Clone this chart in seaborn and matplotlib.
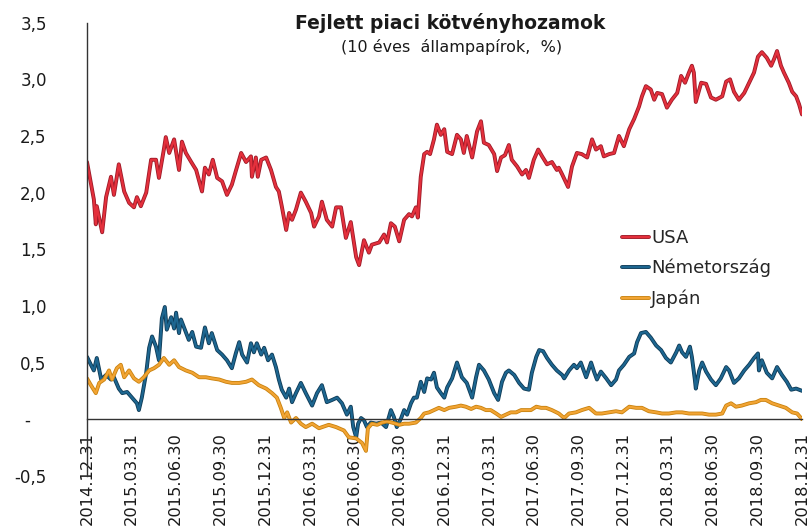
import matplotlib
matplotlib.use("Agg")
import matplotlib.pyplot as plt
import matplotlib.patheffects as pe
from matplotlib.lines import Line2D
import numpy as np
import pandas as pd
import seaborn as sns

start = pd.Timestamp("2014-12-31")

# days after 2014.12.31, values in %
usa_days = [0, 14, 18, 20, 31, 39, 49, 55, 65, 76, 86, 96, 102, 110, 121, 131, 141, 147, 157, 161,
            168, 178, 188, 194, 202, 213, 223, 235, 241, 249, 257, 266, 276, 286, 296, 304, 315, 325, 335, 337,
            345, 349, 356, 366, 376, 386, 392, 398, 407, 413, 419, 427, 437, 447, 458, 464, 474, 480, 490, 501,
            509, 519, 529, 539, 550, 556, 566, 576, 582, 597, 607, 613, 621, 629, 638, 648, 658, 664, 672, 676,
            682, 689, 695, 701, 709, 715, 723, 730, 736, 746, 756, 764, 770, 776, 787, 797, 805, 811, 821, 832,
            838, 846, 854, 862, 868, 879, 889, 897, 903, 913, 922, 930, 940, 950, 960, 964, 971, 983, 991, 1001,
            1011, 1022, 1032, 1040, 1050, 1056, 1067, 1077, 1087, 1097, 1108, 1118, 1128, 1134, 1142, 1152, 1159, 1165, 1175, 1185,
            1195, 1206, 1214, 1222, 1230, 1236, 1240, 1244, 1255, 1265, 1275, 1285, 1298, 1306, 1314, 1322, 1332, 1343, 1353, 1363,
            1371, 1379, 1389, 1398, 1404, 1410, 1418, 1424, 1434, 1441, 1449, 1455, 1461]
usa_vals = [2.27, 1.94, 1.72, 1.88, 1.65, 1.96, 2.14, 1.98, 2.25, 2.01, 1.91, 1.87, 1.96, 1.88, 2.00, 2.29, 2.29, 2.13, 2.38, 2.49,
            2.35, 2.47, 2.20, 2.45, 2.35, 2.27, 2.20, 2.01, 2.22, 2.16, 2.29, 2.13, 2.10, 1.98, 2.07, 2.19, 2.35, 2.27, 2.32, 2.14,
            2.31, 2.14, 2.29, 2.31, 2.20, 2.05, 2.01, 1.88, 1.67, 1.82, 1.76, 1.85, 2.00, 1.92, 1.82, 1.70, 1.79, 1.92, 1.76, 1.70,
            1.87, 1.87, 1.60, 1.74, 1.43, 1.36, 1.58, 1.47, 1.54, 1.56, 1.63, 1.56, 1.73, 1.70, 1.57, 1.76, 1.81, 1.79, 1.87, 1.78,
            2.14, 2.34, 2.36, 2.34, 2.47, 2.60, 2.51, 2.56, 2.36, 2.34, 2.51, 2.47, 2.35, 2.50, 2.31, 2.54, 2.63, 2.44, 2.42, 2.34,
            2.19, 2.31, 2.33, 2.42, 2.29, 2.23, 2.16, 2.20, 2.13, 2.29, 2.38, 2.32, 2.25, 2.27, 2.20, 2.22, 2.16, 2.05, 2.23, 2.35,
            2.34, 2.31, 2.47, 2.38, 2.41, 2.32, 2.34, 2.35, 2.50, 2.41, 2.56, 2.65, 2.76, 2.85, 2.94, 2.91, 2.82, 2.88, 2.87, 2.75,
            2.82, 2.88, 3.03, 2.97, 3.06, 3.12, 3.06, 2.80, 2.97, 2.96, 2.84, 2.82, 2.85, 2.98, 3.00, 2.89, 2.82, 2.88, 2.97, 3.06,
            3.20, 3.24, 3.19, 3.12, 3.18, 3.25, 3.12, 3.06, 2.97, 2.89, 2.85, 2.78, 2.69]

ger_days = [0, 8, 14, 20, 29, 39, 49, 55, 65, 72, 82, 92, 102, 106, 112, 121, 127, 133, 141, 147,
            153, 159, 163, 172, 178, 182, 188, 192, 200, 208, 215, 223, 233, 241, 249, 255, 266, 276, 286, 296,
            304, 311, 317, 327, 335, 341, 347, 356, 362, 370, 378, 386, 392, 398, 407, 413, 419, 427, 437, 447,
            460, 470, 480, 490, 501, 511, 521, 531, 539, 544, 550, 554, 560, 566, 572, 580, 591, 601, 611, 621,
            627, 633, 642, 648, 654, 662, 668, 674, 682, 689, 695, 703, 709, 715, 723, 730, 736, 746, 756, 766,
            776, 787, 795, 801, 811, 821, 832, 840, 848, 856, 862, 873, 883, 893, 903, 909, 918, 924, 932, 940,
            950, 960, 971, 975, 985, 995, 1001, 1009, 1020, 1030, 1036, 1042, 1050, 1061, 1071, 1081, 1087, 1097, 1108, 1118,
            1124, 1132, 1142, 1152, 1163, 1173, 1183, 1193, 1204, 1210, 1216, 1224, 1232, 1236, 1242, 1244, 1251, 1257, 1265, 1275,
            1285, 1295, 1306, 1312, 1322, 1332, 1343, 1353, 1363, 1371, 1373, 1379, 1389, 1400, 1410, 1420, 1430, 1439, 1449, 1461]
ger_vals = [0.55, 0.48, 0.43, 0.54, 0.35, 0.39, 0.35, 0.37, 0.27, 0.23, 0.24, 0.19, 0.14, 0.08, 0.19, 0.41, 0.63, 0.73, 0.64, 0.52,
            0.89, 0.99, 0.79, 0.90, 0.80, 0.94, 0.76, 0.88, 0.79, 0.70, 0.77, 0.64, 0.63, 0.81, 0.67, 0.76, 0.61, 0.57, 0.52, 0.45,
            0.58, 0.68, 0.57, 0.50, 0.67, 0.59, 0.67, 0.57, 0.63, 0.52, 0.57, 0.46, 0.35, 0.26, 0.19, 0.27, 0.15, 0.23, 0.32, 0.23,
            0.12, 0.23, 0.30, 0.15, 0.17, 0.19, 0.14, 0.04, 0.11, -0.07, -0.16, -0.04, 0.01, -0.01, -0.07, -0.03, -0.04, -0.03, -0.07, 0.08,
            0.02, -0.07, 0.01, 0.08, 0.04, 0.14, 0.19, 0.19, 0.33, 0.24, 0.36, 0.35, 0.41, 0.28, 0.23, 0.19, 0.28, 0.36, 0.50, 0.37,
            0.32, 0.19, 0.37, 0.48, 0.43, 0.35, 0.23, 0.17, 0.33, 0.41, 0.43, 0.39, 0.32, 0.27, 0.26, 0.41, 0.55, 0.61, 0.60, 0.54,
            0.48, 0.43, 0.39, 0.36, 0.43, 0.48, 0.45, 0.50, 0.37, 0.50, 0.42, 0.35, 0.42, 0.36, 0.30, 0.35, 0.43, 0.48, 0.55, 0.58,
            0.68, 0.76, 0.77, 0.72, 0.65, 0.61, 0.54, 0.50, 0.59, 0.65, 0.59, 0.55, 0.64, 0.55, 0.35, 0.27, 0.43, 0.50, 0.42, 0.35,
            0.30, 0.36, 0.46, 0.43, 0.32, 0.36, 0.43, 0.48, 0.54, 0.58, 0.43, 0.52, 0.41, 0.36, 0.46, 0.39, 0.33, 0.26, 0.27, 0.25]

jap_days = [0, 8, 18, 25, 35, 45, 51, 61, 69, 76, 86, 96, 106, 116, 127, 137, 147, 157, 168, 178,
            188, 202, 215, 229, 243, 255, 270, 284, 296, 311, 325, 337, 351, 366, 378, 388, 396, 403, 409, 417,
            427, 437, 447, 460, 474, 494, 509, 525, 535, 550, 562, 570, 574, 582, 593, 603, 613, 623, 638, 648,
            658, 672, 682, 689, 699, 709, 719, 730, 740, 754, 764, 774, 785, 795, 805, 815, 825, 836, 846, 856,
            866, 877, 887, 897, 907, 918, 928, 938, 950, 964, 975, 985, 999, 1011, 1026, 1040, 1052, 1067, 1081, 1093,
            1108, 1122, 1134, 1148, 1163, 1175, 1189, 1204, 1216, 1230, 1244, 1257, 1271, 1285, 1298, 1306, 1316, 1326, 1338, 1353,
            1367, 1377, 1387, 1400, 1414, 1428, 1441, 1451, 1459, 1461]
jap_vals = [0.36, 0.30, 0.23, 0.32, 0.35, 0.43, 0.35, 0.45, 0.48, 0.37, 0.43, 0.36, 0.33, 0.37, 0.43, 0.45, 0.48, 0.54, 0.48, 0.52,
            0.46, 0.43, 0.41, 0.37, 0.37, 0.36, 0.35, 0.33, 0.32, 0.32, 0.33, 0.35, 0.30, 0.27, 0.23, 0.19, 0.10, 0.01, 0.06, -0.03,
            0.01, -0.04, -0.07, -0.04, -0.08, -0.05, -0.07, -0.10, -0.16, -0.17, -0.21, -0.28, -0.08, -0.04, -0.05, -0.03, -0.02, -0.03, -0.05, -0.04,
            -0.04, -0.03, 0.01, 0.05, 0.06, 0.08, 0.10, 0.08, 0.10, 0.11, 0.12, 0.11, 0.09, 0.11, 0.10, 0.08, 0.08, 0.05, 0.02, 0.04,
            0.06, 0.06, 0.08, 0.08, 0.08, 0.11, 0.10, 0.10, 0.08, 0.05, 0.01, 0.05, 0.06, 0.08, 0.10, 0.05, 0.05, 0.06, 0.07, 0.06,
            0.11, 0.10, 0.10, 0.07, 0.06, 0.05, 0.05, 0.06, 0.06, 0.05, 0.05, 0.05, 0.04, 0.04, 0.05, 0.12, 0.14, 0.11, 0.12, 0.14,
            0.15, 0.17, 0.17, 0.14, 0.12, 0.10, 0.06, 0.05, 0.01, 0.00]

countries = ["USA", "Németország", "Japán"]
colors = {"USA": "#e4303c", "Németország": "#1d6690", "Japán": "#f2a433"}
edges = {"USA": "#9c1a28", "Németország": "#0f3a55", "Japán": "#c8820f"}

yticks = [-0.5, 0, 0.5, 1.0, 1.5, 2.0, 2.5, 3.0, 3.5]
ytick_labels = ["-0,5", "-   ", "0,5", "1,0", "1,5", "2,0", "2,5", "3,0", "3,5"]

frames = []
for name, d, v in [("USA", usa_days, usa_vals), ("Németország", ger_days, ger_vals), ("Japán", jap_days, jap_vals)]:
    assert len(d) == len(v), name
    frames.append(pd.DataFrame({"date": start + pd.to_timedelta(d, unit="D"), "value": v, "country": name}))
df = pd.concat(frames, ignore_index=True)

sns.set_style("white")
plt.rcParams["font.family"] = ["DejaVu Sans"]

fig = plt.figure(figsize=(8.11, 5.31), dpi=100)
ax = fig.add_axes([87 / 811, 1 - 475.8 / 531, (802 - 87) / 811, (475.8 - 22.7) / 531])

sns.lineplot(data=df, x="date", y="value", hue="country", hue_order=countries,
             palette=colors, linewidth=1.6, legend=False, ax=ax, sort=False)
for line, name in zip(ax.get_lines(), countries):
    line.set_path_effects([pe.Stroke(linewidth=2.8, foreground=edges[name]), pe.Normal()])

ax.set_ylim(-0.5, 3.5)
ax.set_xlim(pd.Timestamp("2014-12-31"), pd.Timestamp("2018-12-31"))
ax.set_yticks(yticks)
ax.set_yticklabels(ytick_labels)
qticks = pd.date_range("2014-12-31", "2018-12-31", freq="QE")
ax.set_xticks(qticks)
ax.set_xticklabels([t.strftime("%Y.%m.%d") for t in qticks])
ax.set_xlabel("")
ax.set_ylabel("")

for s in ["top", "right"]:
    ax.spines[s].set_visible(False)
ax.spines["bottom"].set_position(("data", 0))
for s in ["left", "bottom"]:
    ax.spines[s].set_color("#333333")
    ax.spines[s].set_linewidth(1.0)
ax.tick_params(axis="y", direction="out", length=4, width=1, color="#333333", pad=25, labelsize=12, labelcolor="#1a1a1a")
ax.tick_params(axis="x", direction="out", length=4, width=1, color="#333333", pad=5, labelsize=11.7,
               labelcolor="#1a1a1a", labelrotation=90)
plt.setp(ax.get_xticklabels(), ha="center", va="top", rotation_mode="default")
ax.grid(False)

fig.text(450 / 811, 1 - 23 / 531, "Fejlett piaci kötvényhozamok", ha="center", va="center",
         fontsize=13.5, fontweight="bold", color="#1a1a1a")
fig.text(452 / 811, 1 - 47 / 531, "(10 éves  állampapírok,  %)", ha="center", va="center",
         fontsize=11.5, color="#1a1a1a")

handles = [Line2D([], [], color=colors[c], linewidth=1.6,
                  path_effects=[pe.Stroke(linewidth=2.8, foreground=edges[c]), pe.Normal()]) for c in countries]
ax.legend(handles, countries, loc="upper left", bbox_to_anchor=(622 / 811, 1 - 229 / 531),
          bbox_transform=fig.transFigure, frameon=False, fontsize=13, handlelength=1.5,
          handletextpad=0.1, labelspacing=0.66, borderpad=0, borderaxespad=0)

fig.savefig("out.png", dpi=100)
